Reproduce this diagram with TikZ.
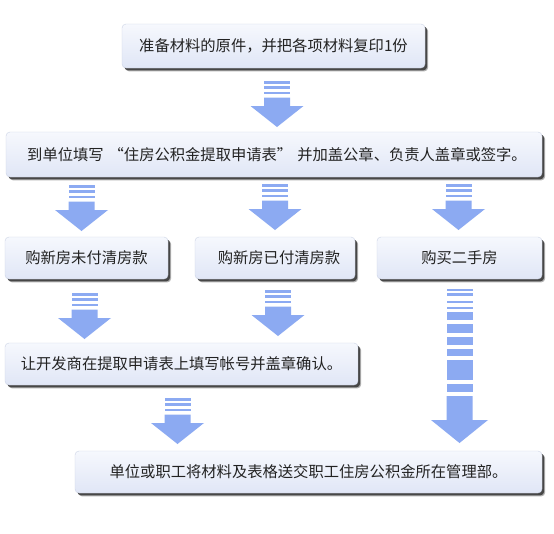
\documentclass[tikz,border=0pt]{standalone}
\usepackage{fontspec}
\newfontfamily\cjk{Noto Sans CJK SC}
\usetikzlibrary{shadows}
\definecolor{arrowblue}{RGB}{140,170,242}
\definecolor{boxtop}{RGB}{246,248,253}
\definecolor{boxbot}{RGB}{224,230,246}
\definecolor{boxedge}{RGB}{205,212,230}
\definecolor{txt}{RGB}{34,34,34}
\tikzset{
  flowbox/.style={rounded corners=4pt, draw=boxedge, line width=0.4pt,
    top color=boxtop, bottom color=boxbot, inner sep=0pt, text=txt,
    font=\cjk\fontsize{15.3}{18}\selectfont,
    drop shadow={shadow xshift=3.2pt, shadow yshift=-3.4pt, fill=black!30, opacity=1},
    drop shadow={shadow xshift=2.2pt, shadow yshift=-2.4pt, fill=black!72, opacity=1}},
  arrowfill/.style={fill=arrowblue, draw=none},
}
% name, x1, y1, x2, y2, text   (pixel coordinates, y downwards)
\newcommand\flowbox[6]{%
  \node[flowbox, minimum width={#4-#2}, minimum height={#5-#3}] (#1)
    at ({(#2+#4)/2},{-(#3+#5)/2}) {#6};}
% short striped block arrow: x centre, y top
\newcommand\sarrow[2]{%
  \fill[arrowfill] ({#1-13},{-#2}) rectangle ({#1+13},{-#2-2.5});
  \fill[arrowfill] ({#1-13},{-#2-5}) rectangle ({#1+13},{-#2-7.5});
  \fill[arrowfill] ({#1-13},{-#2-10.5}) rectangle ({#1+13},{-#2-13});
  \fill[arrowfill] ({#1-13},{-#2-16.5}) -- ({#1+13},{-#2-16.5}) -- ({#1+13},{-#2-25})
    -- ({#1+26.5},{-#2-25}) -- ({#1},{-#2-46}) -- ({#1-26.5},{-#2-25}) -- ({#1-13},{-#2-25}) -- cycle;}
\begin{document}
\begin{tikzpicture}[x=1pt,y=1pt]
\useasboundingbox[fill=white] (0,0) rectangle (554,-533);

\flowbox{b1}{122}{24}{425}{68}{准备材料的原件，并把各项材料复印1份}
\flowbox{b2}{6}{132}{542}{177}{\hspace{6pt}到单位填写\hspace{5pt}“住房公积金提取申请表”\hspace{5pt}并加盖公章、负责人盖章或签字。}
\flowbox{ba}{5}{237}{168}{279}{购新房未付清房款}
\flowbox{bb}{195}{237}{355}{279}{\hspace{8pt}购新房已付清房款}
\flowbox{bc}{377}{237}{542}{279}{购买二手房}
\flowbox{b4}{5}{343}{358}{385}{让开发商在提取申请表上填写帐号并盖章确认。}
\flowbox{b5}{75}{451}{542}{493}{单位或职工将材料及表格送交职工住房公积金所在管理部。}

\sarrow{277}{81}
\sarrow{81.5}{185}
\sarrow{275}{184}
\sarrow{458.5}{184}
\sarrow{84.5}{293}
\sarrow{278}{290}
\sarrow{177.5}{398}

% long arrow from "购买二手房" to the last box
\begin{scope}[arrowfill]
\foreach \a/\b in {289/291,293.3/295.5,300.7/302.9,306.7/308.9,312/320,324/333,337/345,349/356,360/380,384/392}
  \fill ({446.5},{-\a}) rectangle ({472.5},{-\b});
\fill (446.5,-396) -- (472.5,-396) -- (472.5,-420) -- (488,-420) -- (459.5,-443)
  -- (431,-420) -- (446.5,-420) -- cycle;
\end{scope}
\end{tikzpicture}
\end{document}
